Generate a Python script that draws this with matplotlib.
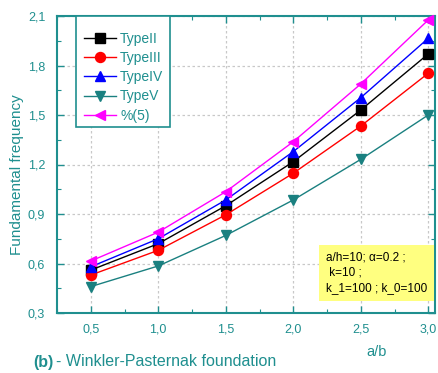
import matplotlib
matplotlib.use("Agg")
import matplotlib.pyplot as plt
from matplotlib.ticker import MultipleLocator, FuncFormatter
from matplotlib.patches import Rectangle

x = [0.5, 1.0, 1.5, 2.0, 2.5, 3.0]
type2 = [0.56, 0.72, 0.95, 1.217, 1.53, 1.87]
type3 = [0.53, 0.68, 0.895, 1.147, 1.433, 1.753]
type4 = [0.58, 0.75, 0.985, 1.278, 1.605, 1.965]
type5 = [0.46, 0.585, 0.77, 0.985, 1.231, 1.50]
pct5 = [0.615, 0.79, 1.035, 1.338, 1.688, 2.076]
labels = ["TypeII", "TypeIII", "TypeIV", "TypeV", "%(5)"]

teal = "#1f8f8f"
plt.rcParams['font.family'] = ['Liberation Sans', 'DejaVu Sans']

W, H = 438, 373
fig = plt.figure(figsize=(4.38, 3.73), dpi=100)
ax = fig.add_axes([57 / W, 1 - 313 / H, (435 - 57) / W, (313 - 16) / H])

series = [(type2, 'black', 's'), (type3, 'red', 'o'), (type4, 'blue', '^'),
          (type5, '#1a8080', 'v'), (pct5, 'magenta', '<')]
for (vals, c, m), lab in zip(series, labels):
    ax.plot(x, vals, color=c, marker=m, markersize=7.2, lw=1.0, label=lab,
            clip_on=False, zorder=3)

ax.set_xlim(0.25, 3.05)
ax.set_ylim(0.3, 2.1)
ax.xaxis.set_major_locator(MultipleLocator(0.5))
ax.xaxis.set_minor_locator(MultipleLocator(0.25))
ax.yaxis.set_major_locator(MultipleLocator(0.3))
ax.yaxis.set_minor_locator(MultipleLocator(0.15))
fmt = FuncFormatter(lambda v, p: f"{v:.1f}".replace('.', ','))
ax.xaxis.set_major_formatter(fmt)
ax.yaxis.set_major_formatter(fmt)
ax.tick_params(which='both', direction='in', top=True, right=True, color=teal,
               labelcolor=teal, labelsize=9)
ax.tick_params(which='major', length=5, width=1)
ax.tick_params(which='minor', length=3, width=0.8)
ax.tick_params(axis='x', pad=7.5)
ax.tick_params(axis='y', pad=8.5)
for s in ax.spines.values():
    s.set_color(teal)
    s.set_linewidth(1.5)
ax.grid(True, which='major', color='#c8c8c8', linestyle=(0, (2, 2)), lw=0.9)

fig.text(17 / W, 1 - 175 / H, "Fundamental frequency", color=teal, fontsize=11,
         rotation=90, ha='center', va='center')
fig.text(377 / W, 1 - 352 / H, "a/b", color=teal, fontsize=10.5, ha='center', va='center')
fig.text(33 / W, 1 - 362 / H, "(b)", color=teal, fontsize=11.5, fontweight='bold',
         ha='left', va='center')
fig.text(56 / W, 1 - 362 / H, "- Winkler-Pasternak foundation", color=teal, fontsize=11.5,
         ha='left', va='center')

# legend frame (drawn separately to match the reference box)
ax.add_patch(Rectangle(((76 - 57) / 378, 1 - (127 - 16) / 297), (170 - 76) / 378,
                       (127 - 16) / 297, transform=ax.transAxes, facecolor='white',
                       edgecolor=teal, lw=1.2, zorder=4, clip_on=False))
leg = ax.legend(loc='upper left', bbox_to_anchor=((84 - 57) / 378, 1 - (32 - 16) / 297),
                frameon=False, fontsize=10, labelcolor=teal, handlelength=2.3,
                borderpad=0, labelspacing=0.37, handletextpad=0.3, borderaxespad=0)
leg.set_zorder(5)

ax.text(0.712, 0.135, "a/h=10; \u03b1=0.2 ;\n k=10 ;\nk_1=100 ; k_0=100",
        transform=ax.transAxes, fontsize=8.5, color='black', va='center', ha='left',
        linespacing=1.35, zorder=6,
        bbox=dict(boxstyle='square,pad=0.6', facecolor='#ffff80', edgecolor='none'))

fig.savefig("out.png", dpi=100)
